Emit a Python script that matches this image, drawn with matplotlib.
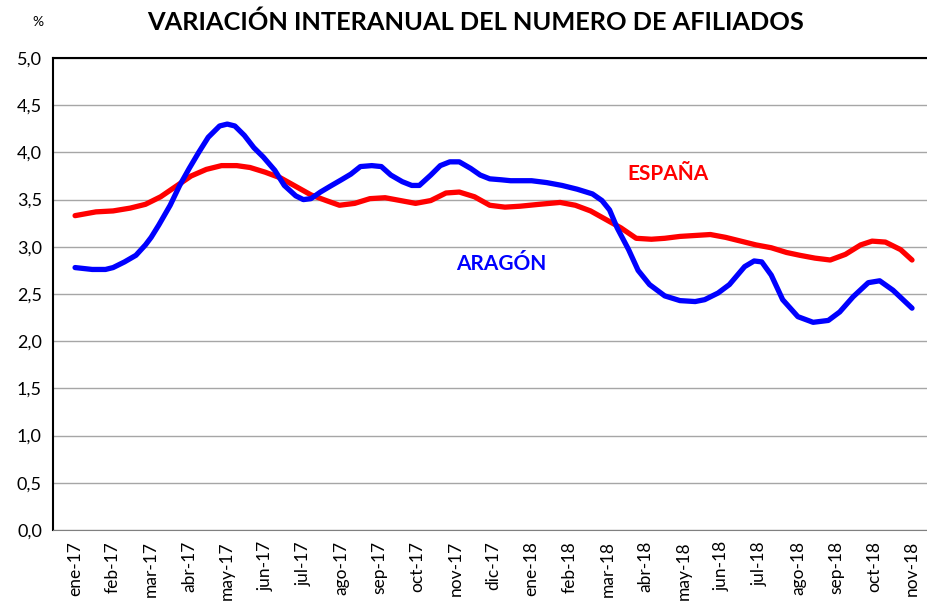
import matplotlib
matplotlib.use('Agg')
from matplotlib import pyplot as plt
from matplotlib.ticker import FuncFormatter

# month labels (x axis, one tick per month)
months = ['ene-17', 'feb-17', 'mar-17', 'abr-17', 'may-17', 'jun-17', 'jul-17',
          'ago-17', 'sep-17', 'oct-17', 'nov-17', 'dic-17', 'ene-18', 'feb-18',
          'mar-18', 'abr-18', 'may-18', 'jun-18', 'jul-18', 'ago-18', 'sep-18',
          'oct-18', 'nov-18']

# ARAGON: position in months from ene-17, year-on-year variation (%)
aragon_x = [0.0, 0.45, 0.8, 1.0, 1.3, 1.6, 1.85, 2.0, 2.2, 2.5, 2.75, 3.0,
            3.25, 3.5, 3.8, 4.0, 4.2, 4.45, 4.7, 4.95, 5.25, 5.5, 5.8, 6.0,
            6.2, 6.45, 6.7, 7.0, 7.25, 7.5, 7.8, 8.05, 8.3, 8.6, 8.85, 9.05,
            9.35, 9.6, 9.85, 10.1, 10.4, 10.65, 10.9, 11.2, 11.45, 12.0, 12.4,
            12.8, 13.2, 13.6, 13.85, 14.05, 14.25, 14.55, 14.8, 15.1, 15.5,
            15.9, 16.3, 16.55, 16.9, 17.2, 17.6, 17.85, 18.05, 18.3, 18.6,
            19.0, 19.4, 19.8, 20.1, 20.45, 20.85, 21.15, 21.5, 22.0]
aragon_y = [2.78, 2.76, 2.76, 2.78, 2.84, 2.91, 3.02, 3.10, 3.23, 3.44, 3.65,
            3.83, 4.00, 4.16, 4.28, 4.30, 4.28, 4.18, 4.05, 3.95, 3.81, 3.65,
            3.54, 3.50, 3.51, 3.58, 3.64, 3.71, 3.77, 3.85, 3.86, 3.85, 3.76,
            3.69, 3.65, 3.65, 3.76, 3.86, 3.90, 3.90, 3.83, 3.76, 3.72, 3.71,
            3.70, 3.70, 3.68, 3.65, 3.61, 3.56, 3.49, 3.39, 3.20, 2.97, 2.75,
            2.60, 2.48, 2.43, 2.42, 2.44, 2.51, 2.60, 2.79, 2.85, 2.84, 2.70,
            2.44, 2.26, 2.20, 2.22, 2.31, 2.47, 2.62, 2.64, 2.54, 2.35]

# ESPAÑA
espana_x = [0.0, 0.55, 1.0, 1.45, 1.85, 2.25, 2.65, 3.05, 3.45, 3.85, 4.25,
            4.6, 5.0, 5.4, 5.8, 6.2, 6.6, 6.95, 7.35, 7.75, 8.15, 8.55, 8.95,
            9.35, 9.75, 10.1, 10.5, 10.9, 11.3, 11.7, 12.2, 12.75, 13.15,
            13.55, 13.95, 14.35, 14.75, 15.15, 15.5, 15.9, 16.3, 16.7, 17.1,
            17.5, 17.9, 18.3, 18.7, 19.05, 19.45, 19.85, 20.25, 20.65, 20.95,
            21.3, 21.7, 22.0]
espana_y = [3.33, 3.37, 3.38, 3.41, 3.45, 3.53, 3.64, 3.75, 3.82, 3.86, 3.86,
            3.84, 3.79, 3.73, 3.64, 3.55, 3.49, 3.44, 3.46, 3.51, 3.52, 3.49,
            3.46, 3.49, 3.57, 3.58, 3.53, 3.44, 3.42, 3.43, 3.45, 3.47, 3.44,
            3.38, 3.29, 3.20, 3.09, 3.08, 3.09, 3.11, 3.12, 3.13, 3.10, 3.06,
            3.02, 2.99, 2.94, 2.91, 2.88, 2.86, 2.92, 3.02, 3.06, 3.05, 2.97,
            2.86]

plt.rcParams['font.family'] = ['Lato', 'DejaVu Sans']

fig = plt.figure(figsize=(9.28, 6.07), dpi=100)
ax = fig.add_axes([53 / 928, 77 / 607, 875 / 928, 472 / 607])

ax.plot(espana_x, espana_y, color='#FF0000', lw=3.8, solid_capstyle='round', zorder=3)
ax.plot(aragon_x, aragon_y, color='#0000FF', lw=3.8, solid_capstyle='round', zorder=4)

ax.set_xlim(-0.58, 22.42)
ax.set_ylim(0, 5)
ax.set_yticks([i * 0.5 for i in range(11)])
ax.yaxis.set_major_formatter(FuncFormatter(lambda v, p: ('%.1f' % v).replace('.', ',')))
ax.set_xticks(range(len(months)))
ax.set_xticklabels(months, rotation=90)
ax.tick_params(axis='both', length=0, labelsize=12.5, colors='black')
ax.tick_params(axis='x', pad=8)
ax.tick_params(axis='y', pad=8, labelsize=13)

ax.grid(axis='y', color='#A6A6A6', lw=1)
ax.set_axisbelow(True)
ax.spines['right'].set_visible(False)
ax.spines['top'].set_color('black')
ax.spines['top'].set_linewidth(1.5)
ax.spines['left'].set_color('black')
ax.spines['left'].set_linewidth(1.5)
ax.spines['bottom'].set_color('#808080')

fig.text(476 / 928, 1 - 22 / 607, 'VARIACIÓN INTERANUAL DEL NUMERO DE AFILIADOS',
         ha='center', va='center', fontsize=18.3, fontweight='bold')
fig.text(38 / 928, 1 - 22 / 607, '%', ha='center', va='center', fontsize=10)

# series labels inside the plot
fig.text(668 / 928, 1 - 174 / 607, 'ESPAÑA', color='#FF0000', fontsize=15,
         fontweight='bold', ha='center', va='center')
fig.text(501 / 928, 1 - 264 / 607, 'ARAGÓN', color='#0000FF', fontsize=15,
         fontweight='bold', ha='center', va='center')

fig.savefig('out.png', dpi=100)
